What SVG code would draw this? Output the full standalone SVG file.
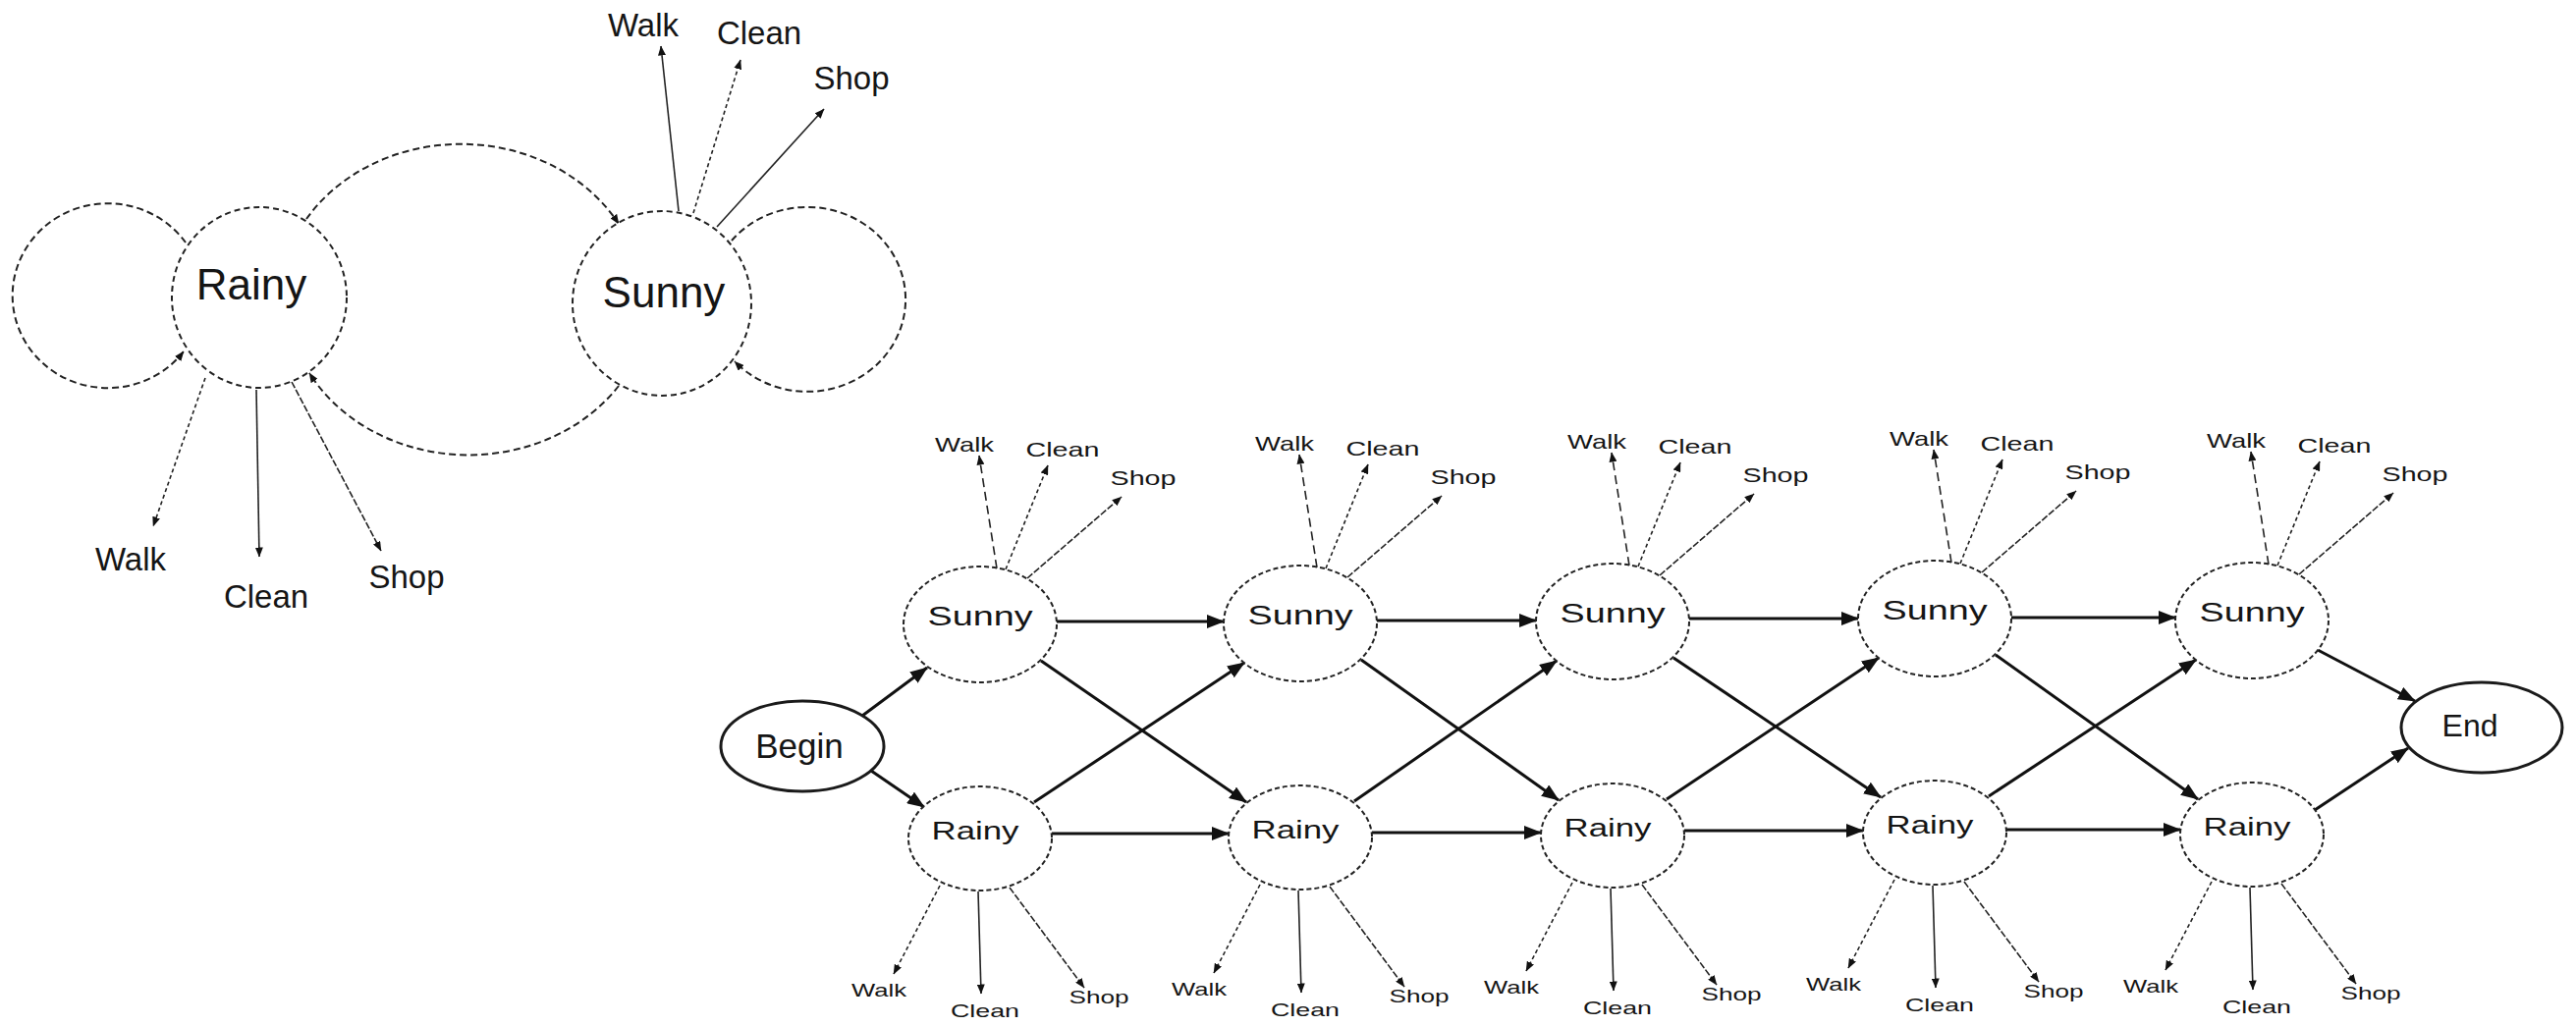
<svg xmlns="http://www.w3.org/2000/svg" width="2623" height="1045" viewBox="0 0 2623 1045">
<style>
text{font-family:"Liberation Sans",Arial,sans-serif;fill:#151515;text-anchor:middle}
.st{fill:#fff;stroke:#222;stroke-width:2;stroke-dasharray:6 4}
.tr{fill:#fff;stroke:#222;stroke-width:2;stroke-dasharray:5 3}
.term{fill:#fff;stroke:#1a1a1a;stroke-width:3}
.loop{fill:none;stroke:#222;stroke-width:2;stroke-dasharray:7 4;marker-end:url(#sm)}
.em{fill:none;stroke:#222;stroke-width:1.6;marker-end:url(#sm)}
.d1{stroke-dasharray:9 5}
.d2{stroke-dasharray:4 3}
.d3{stroke-dasharray:7 2}
.t{fill:none;stroke:#111;stroke-width:3;marker-end:url(#big)}
.big{font-size:44px}
.lab{font-size:33px}
</style>
<defs>
<marker id="big" viewBox="0 0 18 14" refX="17" refY="7" markerWidth="18" markerHeight="14" markerUnits="userSpaceOnUse" orient="auto"><path d="M0,0 L18,7 L0,14 z" fill="#111"/></marker>
<marker id="sm" viewBox="0 0 10 8" refX="9.5" refY="4" markerWidth="10" markerHeight="8" markerUnits="userSpaceOnUse" orient="auto"><path d="M0,0 L10,4 L0,8 z" fill="#111"/></marker>
</defs>
<rect width="2623" height="1045" fill="#fff"/>

<g id="connectors">
<!-- top-left state diagram -->
<path class="loop" d="M189,247 A97 94 0 1 0 187,358"/>
<path class="loop" d="M745,245 A100 94 0 1 1 748,368"/>
<path class="loop" d="M312,223 A185 161 0 0 1 630,228"/>
<path class="loop" d="M630,393 A185 161 0 0 1 315,380"/>
<line class="em d2" x1="209" y1="385" x2="156" y2="536"/>
<line class="em" x1="261" y1="397" x2="264" y2="567"/>
<line class="em d3" x1="297" y1="389" x2="388" y2="561"/>
<line class="em" x1="691" y1="215" x2="673" y2="47"/>
<line class="em d2" x1="706" y1="217" x2="754" y2="61"/>
<line class="em" x1="730" y1="231" x2="839" y2="111"/>

<!-- trellis transitions -->
<line class="t" x1="878" y1="729" x2="944" y2="680"/>
<line class="t" x1="887" y1="785" x2="941" y2="822"/>
<line class="t" x1="1076" y1="633" x2="1246" y2="633"/>
<line class="t" x1="1402" y1="632" x2="1564" y2="632"/>
<line class="t" x1="1720" y1="630" x2="1892" y2="630"/>
<line class="t" x1="2048" y1="629" x2="2215" y2="629"/>
<line class="t" x1="1071" y1="849" x2="1251" y2="849"/>
<line class="t" x1="1397" y1="848" x2="1569" y2="848"/>
<line class="t" x1="1715" y1="846" x2="1897" y2="846"/>
<line class="t" x1="2043" y1="845" x2="2220" y2="845"/>
<line class="t" x1="1060" y1="673" x2="1269" y2="817"/>
<line class="t" x1="1386" y1="672" x2="1587" y2="815"/>
<line class="t" x1="1704" y1="670" x2="1915" y2="812"/>
<line class="t" x1="2032" y1="667" x2="2238" y2="814"/>
<line class="t" x1="1053" y1="817" x2="1267" y2="675"/>
<line class="t" x1="1379" y1="816" x2="1585" y2="673"/>
<line class="t" x1="1697" y1="814" x2="1913" y2="670"/>
<line class="t" x1="2025" y1="811" x2="2236" y2="672"/>
<line class="t" x1="2360" y1="662" x2="2459" y2="714"/>
<line class="t" x1="2357" y1="825" x2="2452" y2="762"/>

<!-- trellis emissions: Sunny -->
<line class="em d1" x1="1015" y1="579" x2="997" y2="464"/>
<line class="em d2" x1="1024" y1="580" x2="1067" y2="474"/>
<line class="em d3" x1="1046" y1="589" x2="1142" y2="506"/>
<line class="em d1" x1="1341" y1="578" x2="1323" y2="463"/>
<line class="em d2" x1="1350" y1="579" x2="1393" y2="473"/>
<line class="em d3" x1="1372" y1="588" x2="1468" y2="505"/>
<line class="em d1" x1="1659" y1="576" x2="1641" y2="461"/>
<line class="em d2" x1="1668" y1="577" x2="1711" y2="471"/>
<line class="em d3" x1="1690" y1="586" x2="1786" y2="503"/>
<line class="em d1" x1="1987" y1="573" x2="1969" y2="458"/>
<line class="em d2" x1="1996" y1="574" x2="2039" y2="468"/>
<line class="em d3" x1="2018" y1="583" x2="2114" y2="500"/>
<line class="em d1" x1="2310" y1="575" x2="2292" y2="460"/>
<line class="em d2" x1="2319" y1="576" x2="2362" y2="470"/>
<line class="em d3" x1="2341" y1="585" x2="2437" y2="502"/>
<!-- trellis emissions: Rainy -->
<line class="em d2" x1="957" y1="902" x2="910" y2="992"/>
<line class="em" x1="996" y1="908" x2="999" y2="1012"/>
<line class="em d3" x1="1028" y1="904" x2="1104" y2="1006"/>
<line class="em d2" x1="1283" y1="901" x2="1236" y2="991"/>
<line class="em" x1="1322" y1="907" x2="1325" y2="1011"/>
<line class="em d3" x1="1354" y1="903" x2="1430" y2="1005"/>
<line class="em d2" x1="1601" y1="899" x2="1554" y2="989"/>
<line class="em" x1="1640" y1="905" x2="1643" y2="1009"/>
<line class="em d3" x1="1672" y1="901" x2="1748" y2="1003"/>
<line class="em d2" x1="1929" y1="896" x2="1882" y2="986"/>
<line class="em" x1="1968" y1="902" x2="1971" y2="1006"/>
<line class="em d3" x1="2000" y1="898" x2="2076" y2="1000"/>
<line class="em d2" x1="2252" y1="898" x2="2205" y2="988"/>
<line class="em" x1="2291" y1="904" x2="2294" y2="1008"/>
<line class="em d3" x1="2323" y1="900" x2="2399" y2="1002"/>
</g>

<!-- top-left nodes -->
<g id="rainy-main"><ellipse class="st" cx="264" cy="303" rx="89" ry="92"/><text class="big" x="256" y="305">Rainy</text></g>
<g id="sunny-main"><ellipse class="st" cx="674" cy="309" rx="91" ry="94"/><text class="big" x="676" y="313">Sunny</text></g>
<g id="labels-main">
<text class="lab" x="133" y="581">Walk</text>
<text class="lab" x="271" y="619">Clean</text>
<text class="lab" x="414" y="599">Shop</text>
<text class="lab" x="655" y="37">Walk</text>
<text class="lab" x="773" y="45">Clean</text>
<text class="lab" x="867" y="91">Shop</text>
</g>

<!-- trellis nodes -->
<g id="begin"><ellipse class="term" cx="817" cy="760" rx="83" ry="46"/><text x="814" y="772" font-size="35">Begin</text></g>
<g id="end"><ellipse class="term" cx="2527" cy="741" rx="82" ry="46"/><text x="2515" y="750" font-size="32">End</text></g>

<g id="sunny1"><ellipse class="tr" cx="998" cy="636" rx="78" ry="59"/><text x="998" y="637" font-size="27" textLength="107" lengthAdjust="spacingAndGlyphs">Sunny</text></g>
<g id="sunny2"><ellipse class="tr" cx="1324" cy="635" rx="78" ry="59"/><text x="1324" y="636" font-size="27" textLength="107" lengthAdjust="spacingAndGlyphs">Sunny</text></g>
<g id="sunny3"><ellipse class="tr" cx="1642" cy="633" rx="78" ry="59"/><text x="1642" y="634" font-size="27" textLength="107" lengthAdjust="spacingAndGlyphs">Sunny</text></g>
<g id="sunny4"><ellipse class="tr" cx="1970" cy="630" rx="78" ry="59"/><text x="1970" y="631" font-size="27" textLength="107" lengthAdjust="spacingAndGlyphs">Sunny</text></g>
<g id="sunny5"><ellipse class="tr" cx="2293" cy="632" rx="78" ry="59"/><text x="2293" y="633" font-size="27" textLength="107" lengthAdjust="spacingAndGlyphs">Sunny</text></g>

<g id="rainy1"><ellipse class="tr" cx="998" cy="854" rx="73" ry="53"/><text x="993" y="855" font-size="26" textLength="89" lengthAdjust="spacingAndGlyphs">Rainy</text></g>
<g id="rainy2"><ellipse class="tr" cx="1324" cy="853" rx="73" ry="53"/><text x="1319" y="854" font-size="26" textLength="89" lengthAdjust="spacingAndGlyphs">Rainy</text></g>
<g id="rainy3"><ellipse class="tr" cx="1642" cy="851" rx="73" ry="53"/><text x="1637" y="852" font-size="26" textLength="89" lengthAdjust="spacingAndGlyphs">Rainy</text></g>
<g id="rainy4"><ellipse class="tr" cx="1970" cy="848" rx="73" ry="53"/><text x="1965" y="849" font-size="26" textLength="89" lengthAdjust="spacingAndGlyphs">Rainy</text></g>
<g id="rainy5"><ellipse class="tr" cx="2293" cy="850" rx="73" ry="53"/><text x="2288" y="851" font-size="26" textLength="89" lengthAdjust="spacingAndGlyphs">Rainy</text></g>

<g id="trellis-labels">
<g font-size="21">
<text x="982" y="460" textLength="60" lengthAdjust="spacingAndGlyphs">Walk</text>
<text x="1082" y="465" textLength="75" lengthAdjust="spacingAndGlyphs">Clean</text>
<text x="1164" y="494" textLength="67" lengthAdjust="spacingAndGlyphs">Shop</text>
<text x="1308" y="459" textLength="60" lengthAdjust="spacingAndGlyphs">Walk</text>
<text x="1408" y="464" textLength="75" lengthAdjust="spacingAndGlyphs">Clean</text>
<text x="1490" y="493" textLength="67" lengthAdjust="spacingAndGlyphs">Shop</text>
<text x="1626" y="457" textLength="60" lengthAdjust="spacingAndGlyphs">Walk</text>
<text x="1726" y="462" textLength="75" lengthAdjust="spacingAndGlyphs">Clean</text>
<text x="1808" y="491" textLength="67" lengthAdjust="spacingAndGlyphs">Shop</text>
<text x="1954" y="454" textLength="60" lengthAdjust="spacingAndGlyphs">Walk</text>
<text x="2054" y="459" textLength="75" lengthAdjust="spacingAndGlyphs">Clean</text>
<text x="2136" y="488" textLength="67" lengthAdjust="spacingAndGlyphs">Shop</text>
<text x="2277" y="456" textLength="60" lengthAdjust="spacingAndGlyphs">Walk</text>
<text x="2377" y="461" textLength="75" lengthAdjust="spacingAndGlyphs">Clean</text>
<text x="2459" y="490" textLength="67" lengthAdjust="spacingAndGlyphs">Shop</text>
</g>
<g font-size="19">
<text x="895" y="1015" textLength="56" lengthAdjust="spacingAndGlyphs">Walk</text>
<text x="1003" y="1036" textLength="70" lengthAdjust="spacingAndGlyphs">Clean</text>
<text x="1119" y="1022" textLength="61" lengthAdjust="spacingAndGlyphs">Shop</text>
<text x="1221" y="1014" textLength="56" lengthAdjust="spacingAndGlyphs">Walk</text>
<text x="1329" y="1035" textLength="70" lengthAdjust="spacingAndGlyphs">Clean</text>
<text x="1445" y="1021" textLength="61" lengthAdjust="spacingAndGlyphs">Shop</text>
<text x="1539" y="1012" textLength="56" lengthAdjust="spacingAndGlyphs">Walk</text>
<text x="1647" y="1033" textLength="70" lengthAdjust="spacingAndGlyphs">Clean</text>
<text x="1763" y="1019" textLength="61" lengthAdjust="spacingAndGlyphs">Shop</text>
<text x="1867" y="1009" textLength="56" lengthAdjust="spacingAndGlyphs">Walk</text>
<text x="1975" y="1030" textLength="70" lengthAdjust="spacingAndGlyphs">Clean</text>
<text x="2091" y="1016" textLength="61" lengthAdjust="spacingAndGlyphs">Shop</text>
<text x="2190" y="1011" textLength="56" lengthAdjust="spacingAndGlyphs">Walk</text>
<text x="2298" y="1032" textLength="70" lengthAdjust="spacingAndGlyphs">Clean</text>
<text x="2414" y="1018" textLength="61" lengthAdjust="spacingAndGlyphs">Shop</text>
</g>
</g>
</svg>
